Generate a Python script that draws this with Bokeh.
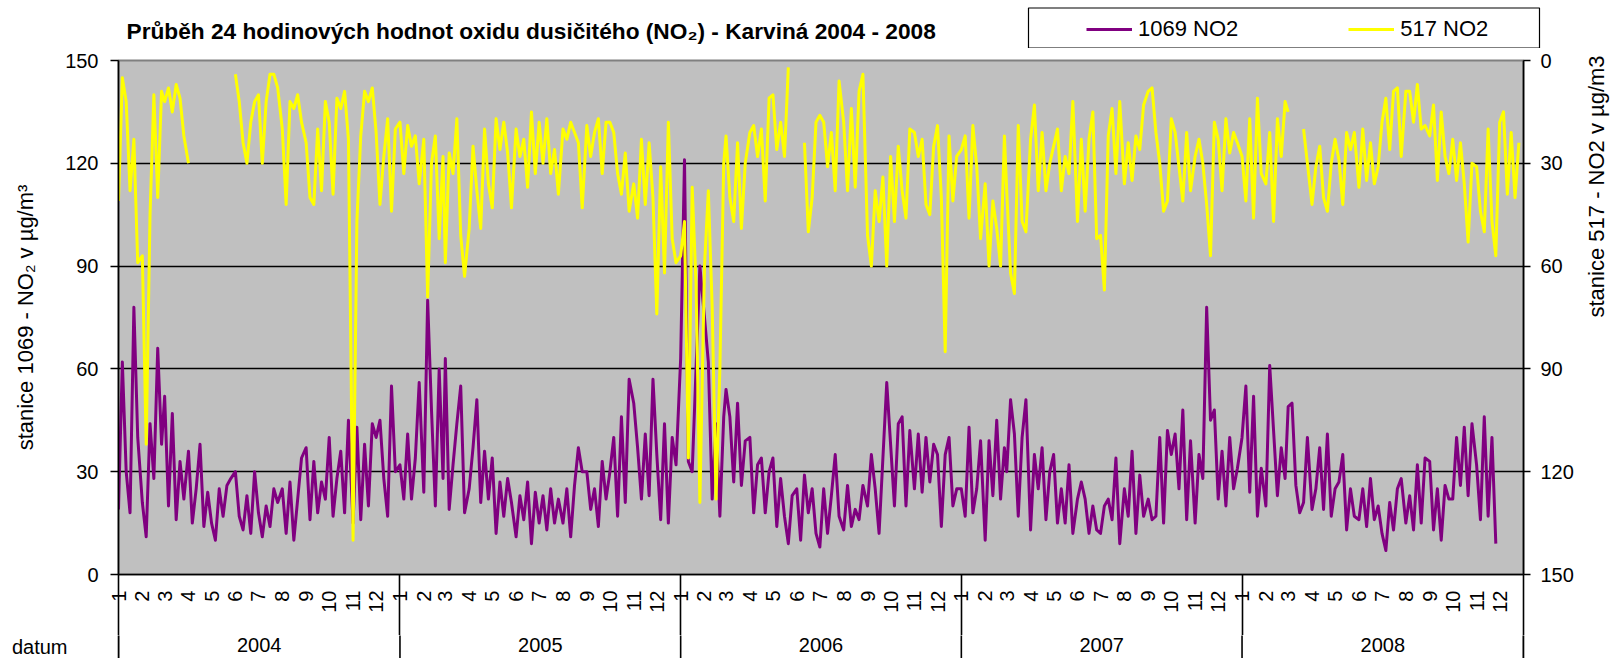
import math
import numpy as np
import pandas as pd
from bokeh.plotting import figure
from bokeh.layouts import column
from bokeh.models import (ColumnDataSource, Range1d, LinearAxis, FixedTicker,
                          CustomJSTickFormatter, Legend, LegendItem, Grid)
from bokeh.core.properties import value
from bokeh.embed import file_html
from bokeh.resources import INLINE

N = float("nan")

# ---------------- data ----------------
TITLE = "Průběh 24 hodinových hodnot oxidu dusičitého (NO₂) - Karviná 2004 - 2008"
SERIES_NAMES = ["1069 NO2", "517 NO2"]
LEFT_AXIS_TITLE = "stanice 1069 - NO₂ v µg/m³"
RIGHT_AXIS_TITLE = "stanice 517 - NO2 v µg/m3"
CATEGORY_TITLE = "datum"
YEARS = [2004, 2005, 2006, 2007, 2008]
MONTH_LABELS = ["1", "2", "3", "4", "5", "6", "7", "8", "9", "10", "11", "12"]
SAMPLE_DAYS = [1, 6, 11, 16, 21, 26]
Y_TICKS = [0, 30, 60, 90, 120, 150]

# station 1069 (left axis), 6 readings per month
no2_1069_2004 = [19, 62, 30, 18, 78, 40,  21, 11, 44, 28, 66, 38,  52, 20, 47, 16, 33, 22,
                 36, 15, 25, 38, 14, 24,  15, 10, 25, 17, 26, 28,  30, 17, 13, 23, 12, 30,
                 18, 11, 20, 14, 25, 21,  25, 12, 27, 10, 22, 34,  37, 16, 33, 18, 27, 22,
                 40, 17, 28, 36, 18, 45,  15, 43, 16, 38, 20, 44,  40, 45, 28, 17, 55, 30]
no2_1069_2005 = [32, 22, 41, 22, 34, 56,  24, 80, 48, 20, 60, 28,  63, 19, 32, 44, 55, 18,
                 25, 37, 51, 21, 36, 22,  34, 12, 27, 17, 28, 21,  11, 23, 16, 27, 9, 24,
                 15, 23, 13, 25, 15, 22,  15, 25, 11, 26, 37, 30,  30, 19, 25, 14, 33, 22,
                 30, 40, 17, 46, 21, 57,  50, 37, 22, 41, 23, 57,  35, 16, 44, 15, 40, 32]
no2_1069_2006 = [63, 121, 33, 30, 60, 90,  75, 62, 22, 44, 17, 46,  54, 46, 27, 50, 26, 39,
                 40, 18, 32, 34, 18, 30,  34, 14, 28, 17, 9, 23,  25, 10, 29, 18, 25, 12,
                 8, 25, 12, 23, 35, 17,  13, 26, 14, 19, 16, 26,  20, 35, 25, 12, 34, 56,
                 38, 20, 44, 46, 20, 42,  25, 41, 24, 40, 27, 38,  35, 14, 35, 40, 20, 25]
no2_1069_2007 = [25, 17, 43, 18, 25, 39,  10, 39, 23, 45, 22, 37,  30, 51, 41, 17, 40, 51,
                 13, 35, 25, 37, 16, 30,  35, 15, 25, 15, 32, 12,  22, 27, 22, 12, 20, 13,
                 12, 20, 22, 16, 34, 9,  25, 17, 36, 12, 29, 17,  22, 16, 17, 40, 15, 42,
                 35, 41, 25, 48, 16, 39,  15, 35, 28, 78, 45, 48,  22, 36, 20, 40, 25, 31]
no2_1069_2008 = [40, 55, 24, 52, 17, 31,  20, 61, 42, 23, 37, 28,  49, 50, 26, 18, 21, 40,
                 19, 25, 37, 19, 41, 17,  25, 27, 35, 13, 25, 17,  16, 25, 14, 28, 16, 20,
                 12, 7, 21, 13, 25, 28,  15, 23, 13, 32, 15, 34,  33, 13, 25, 10, 26, 22,
                 22, 40, 26, 43, 23, 44,  32, 16, 46, 17, 40, 9,  N, N, N, N, N, N]

# station 517 (right axis, reversed), 6 readings per month
no2_517_2004 = [41, 5, 12, 38, 23, 59,  57, 112, 45, 10, 40, 9,  12, 8, 15, 7, 11, 22,
                30, N, N, N, N, N,  N, N, N, N, N, N,  4, 12, 24, 30, 18, 12,
                10, 30, 12, 4, 4, 8,  20, 42, 12, 14, 10, 18,  24, 40, 42, 20, 38, 12,
                18, 39, 11, 14, 9, 23,  140, 47, 22, 9, 12, 8,  21, 42, 28, 17, 44, 20]
no2_517_2005 = [18, 33, 19, 25, 22, 36,  23, 69, 30, 22, 52, 28,  59, 27, 33, 17, 51, 63,
                49, 25, 38, 49, 20, 36,  43, 17, 26, 18, 27, 43,  20, 28, 23, 37, 15, 33,
                18, 30, 17, 33, 26, 39,  20, 23, 18, 21, 24, 43,  19, 28, 21, 17, 33, 18,
                18, 21, 33, 39, 27, 44,  36, 46, 23, 42, 24, 40,  74, 31, 62, 18, 52, 59]
no2_517_2006 = [57, 47, 116, 37, 65, 129,  60, 38, 72, 128, 90, 30,  22, 40, 47, 24, 49, 30,
                21, 19, 28, 20, 41, 11,  10, 26, 18, 28, 2, N,  N, N, 24, 50, 40, 18,
                16, 18, 31, 21, 38, 6,  18, 38, 14, 37, 9, 4,  51, 60, 38, 47, 34, 60,
                28, 47, 25, 38, 46, 20,  21, 28, 23, 42, 45, 25,  19, 40, 85, 22, 41, 28]
no2_517_2007 = [26, 22, 46, 19, 31, 52,  36, 60, 41, 49, 60, 22,  38, 62, 68, 19, 47, 50,
                23, 13, 38, 21, 38, 30,  25, 20, 38, 28, 33, 12,  47, 23, 44, 23, 15, 52,
                51, 67, 22, 14, 33, 12,  36, 24, 35, 22, 26, 13,  9, 8, 21, 30, 44, 41,
                17, 21, 31, 41, 21, 38,  28, 23, 30, 42, 57, 18,  23, 38, 17, 27, 21, 24]
no2_517_2008 = [28, 41, 17, 46, 11, 33,  36, 21, 47, 17, 28, 12,  15, N, N, N, 20, 30,
                42, 31, 25, 40, 44, 30,  23, 29, 42, 21, 26, 21,  37, 20, 35, 24, 36, 31,
                18, 11, 26, 9, 8, 28,  9, 9, 18, 7, 20, 19,  22, 13, 35, 15, 28, 33,
                23, 35, 24, 36, 53, 30,  31, 44, 50, 20, 47, 57,  18, 15, 39, 21, 40, 24]

S1069 = [no2_1069_2004, no2_1069_2005, no2_1069_2006, no2_1069_2007, no2_1069_2008]
S517 = [no2_517_2004, no2_517_2005, no2_517_2006, no2_517_2007, no2_517_2008]


def ms(y, m, d):
    return pd.Timestamp(y, m, d).value / 1e6


dates = np.array([ms(y, m, d) for y in YEARS for m in range(1, 13) for d in SAMPLE_DAYS])
vals1069 = np.array([v for arr in S1069 for v in arr], dtype=float)
vals517 = np.array([v for arr in S517 for v in arr], dtype=float)

X0 = ms(YEARS[0], 1, 1)
X1 = ms(YEARS[-1] + 1, 1, 1)
month_ticks = [ms(y, m, 1) for y in YEARS for m in range(1, 13)]
year_bounds = [ms(y, 1, 1) for y in YEARS] + [X1]
year_mids = [(ms(y, 1, 1) + ms(y + 1, 1, 1)) / 2 for y in YEARS]

# ---------------- layout geometry (page px) ----------------
W = 1624
HEAD_H = 48                 # title + legend strip
FL, FR, FT, FB = 118, 1533, 60, 574
MAIN_BOTTOM = 635           # month-label band ends here
FOOT_H = 658 - MAIN_BOTTOM  # year-label band
FONT = "Liberation Sans"
PURPLE, YELLOW = "#800080", "#FFFF00"
RULE_W = 1.6                # weight of axis/grid/separator rules

XR = Range1d(X0, X1)

# ---------------- header: title + legend ----------------
head = figure(width=W, height=HEAD_H, x_range=Range1d(0, W), y_range=Range1d(HEAD_H, 0),
              x_axis_type=None, y_axis_type=None, title=None,
              output_backend="svg", toolbar_location=None, min_border=0,
              outline_line_color=None, background_fill_color="white",
              border_fill_color="white")
head.frame_align = False
head.text(x=[126], y=[30], text=[TITLE], text_font=value(FONT), text_font_size="22.7px",
          text_font_style="bold", text_baseline="middle", text_align="left",
          text_color="black")
head.quad(left=[1028], right=[1539], top=[7.5], bottom=[HEAD_H - 0.5], fill_color="white",
          line_color="black", line_width=1.2)
# off-canvas stand-ins that carry the line styles for the legend swatches
h1 = head.line(x=[-20, -10], y=[-20, -20], line_color=PURPLE, line_width=3)
h2 = head.line(x=[-20, -10], y=[-20, -20], line_color=YELLOW, line_width=3)
legend = Legend(items=[LegendItem(label=SERIES_NAMES[0], renderers=[h1]),
                       LegendItem(label=SERIES_NAMES[1], renderers=[h2])],
                orientation="horizontal", location=(1086, HEAD_H - 41.5),
                border_line_color=None, background_fill_alpha=0, padding=0, margin=0,
                spacing=110, glyph_width=46, glyph_height=20, label_standoff=6,
                label_text_font=FONT, label_text_font_size="22px",
                label_text_color="black")
head.add_layout(legend, "center")

# ---------------- main plot ----------------
main = figure(width=W, height=MAIN_BOTTOM - HEAD_H, x_range=XR, y_range=Range1d(0, 150),
              x_axis_type=None, y_axis_type=None, title=None,
              output_backend="svg", toolbar_location=None,
              min_border_left=FL, min_border_right=W - FR,
              min_border_top=FT - HEAD_H, min_border_bottom=MAIN_BOTTOM - FB,
              background_fill_color="#C0C0C0", border_fill_color="white",
              outline_line_color="#808080", outline_line_width=2)
main.extra_y_ranges = {"r517": Range1d(150, 0)}

main.add_layout(Grid(dimension=1, ticker=FixedTicker(ticks=[30, 60, 90, 120]),
                     grid_line_color="black", grid_line_width=RULE_W))


def style_y(ax, tick_out, standoff, lab_standoff):
    ax.axis_line_color = "black"
    ax.axis_line_width = RULE_W
    ax.major_tick_line_color = "black"
    ax.major_tick_line_width = RULE_W
    ax.major_tick_out = tick_out
    ax.major_tick_in = 0
    ax.minor_tick_line_color = None
    ax.major_label_standoff = standoff
    ax.major_label_text_font = FONT
    ax.major_label_text_font_size = "20px"
    ax.major_label_text_color = "black"
    ax.axis_label_text_font = FONT
    ax.axis_label_text_font_size = "22px"
    ax.axis_label_text_font_style = "normal"
    ax.axis_label_text_color = "black"
    ax.axis_label_standoff = lab_standoff


left_ax = LinearAxis(ticker=FixedTicker(ticks=Y_TICKS), axis_label=LEFT_AXIS_TITLE)
style_y(left_ax, 8, 12, 24)
main.add_layout(left_ax, "left")

right_ax = LinearAxis(ticker=FixedTicker(ticks=Y_TICKS), axis_label=RIGHT_AXIS_TITLE,
                      y_range_name="r517")
style_y(right_ax, 7, 10, 20)
right_ax.axis_label_orientation = math.pi / 2
main.add_layout(right_ax, "right")

SEP_LEN = MAIN_BOTTOM - FB
month_ax = LinearAxis(
    ticker=FixedTicker(ticks=month_ticks, minor_ticks=year_bounds),
    formatter=CustomJSTickFormatter(args=dict(labels=MONTH_LABELS),
                                    code="return labels[new Date(tick).getUTCMonth()];"),
    major_label_orientation=math.pi / 2)
month_ax.axis_line_color = "black"
month_ax.axis_line_width = RULE_W
month_ax.major_tick_out = 0
month_ax.major_tick_in = 0
month_ax.major_tick_line_color = None
month_ax.minor_tick_in = 0
month_ax.minor_tick_out = SEP_LEN
month_ax.minor_tick_line_color = "black"
month_ax.minor_tick_line_width = RULE_W
month_ax.major_label_standoff = 16 - SEP_LEN
month_ax.major_label_text_font = FONT
month_ax.major_label_text_font_size = "20px"
month_ax.major_label_text_color = "black"
main.add_layout(month_ax, "below")

src1 = ColumnDataSource(dict(x=dates, y=vals1069))
src2 = ColumnDataSource(dict(x=dates, y=vals517))
main.line("x", "y", source=src1, line_color=PURPLE, line_width=3, line_join="round")
main.line("x", "y", source=src2, line_color=YELLOW, line_width=3, line_join="round",
          y_range_name="r517")

# ---------------- footer: year labels + "datum" ----------------
foot = figure(width=W, height=FOOT_H, x_range=XR,
              y_range=Range1d(-(658 - 644.5), 644.5 - MAIN_BOTTOM),
              x_axis_type=None, y_axis_type=None, title=None,
              output_backend="svg", toolbar_location=None,
              min_border_left=FL, min_border_right=W - FR, min_border_top=0,
              min_border_bottom=0, outline_line_color=None,
              background_fill_color="white", border_fill_color="white")
foot.segment(x0=year_bounds, y0=-50, x1=year_bounds, y1=50, line_color="black",
             line_width=RULE_W)
foot.text(x=year_mids, y=[0] * len(year_mids), text=[str(y) for y in YEARS],
          text_font=value(FONT), text_font_size="20px", text_align="center",
          text_baseline="middle", text_color="black")

foot_left = LinearAxis(ticker=FixedTicker(ticks=[]), axis_label=CATEGORY_TITLE)
foot_left.axis_label_orientation = "horizontal"
foot_left.axis_line_color = "black"
foot_left.axis_line_width = RULE_W
foot_left.major_tick_out = 0
foot_left.major_tick_in = 0
foot_left.major_label_standoff = 0
foot_left.axis_label_standoff = 51
foot_left.axis_label_text_font = FONT
foot_left.axis_label_text_font_size = "20px"
foot_left.axis_label_text_font_style = "normal"
foot_left.axis_label_text_color = "black"
foot.add_layout(foot_left, "left")

foot_right = LinearAxis(ticker=FixedTicker(ticks=[]))
foot_right.axis_line_color = "black"
foot_right.axis_line_width = RULE_W
foot_right.major_tick_out = 0
foot_right.major_tick_in = 0
foot_right.major_label_standoff = 0
foot.add_layout(foot_right, "right")

page = column(head, main, foot, spacing=0)
open("out.html", "w").write(file_html(page, INLINE))
